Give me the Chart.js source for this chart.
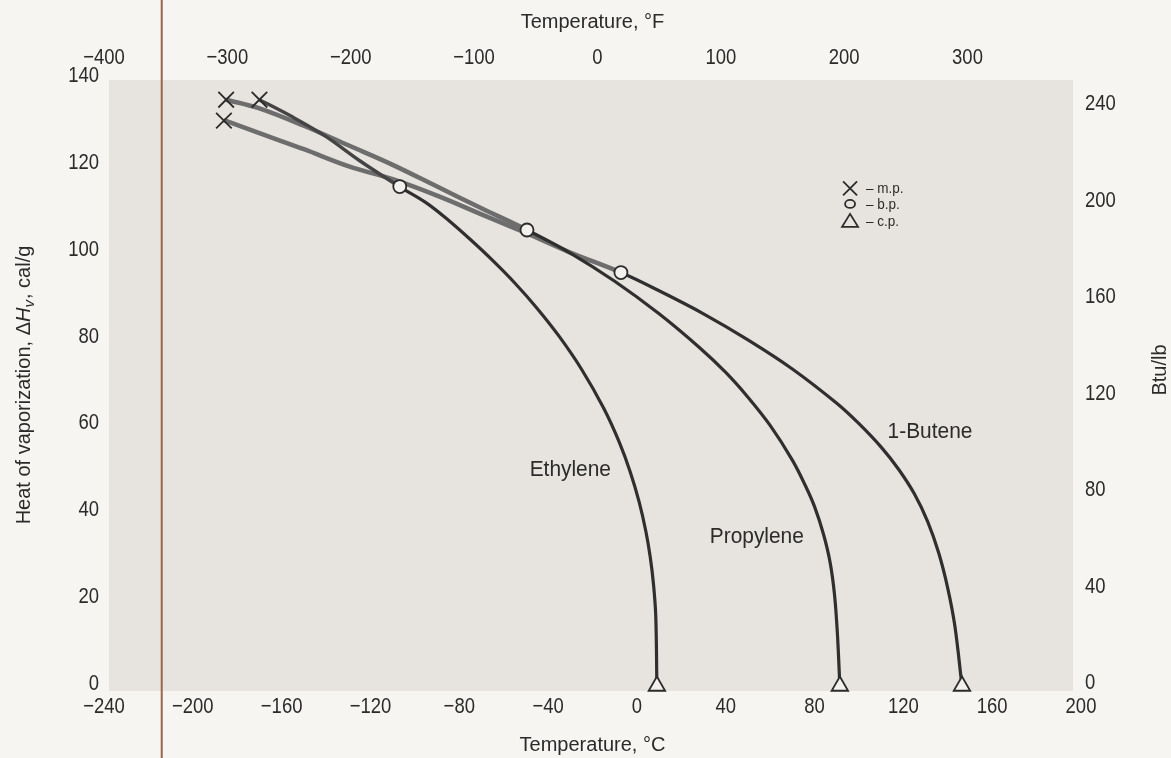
<!DOCTYPE html>
<html>
<head>
<meta charset="utf-8">
<script src="https://cdn.jsdelivr.net/npm/chart.js@4.4.1/dist/chart.umd.min.js"></script>
<style>
html, body { margin: 0; padding: 0; background: #f6f5f2; }
</style>
</head>
<body>
<canvas id="chart" width="1171" height="758"></canvas>
<script>
// temperatures in deg C, heat of vaporization in cal/g
var ethyleneT = [-170, -155, -140, -125, -107, -95, -85, -75, -65, -55, -45, -35, -25, -15, -8, -3, 1, 4, 6, 7.5, 8.5, 9]
var ethyleneH = [135, 131, 126.5, 121, 115, 111.3, 107.3, 102.8, 98, 92.8, 87, 80.5, 73, 64, 56.2, 49.3, 42.4, 35.7, 29.7, 23.3, 16, 0]

var propyleneT = [-185, -170, -150, -130, -110, -90, -70, -49.5, -30, -10, 10, 28, 40, 50, 60, 70, 76, 80, 84, 87, 89, 90.3, 91.4]
var propyleneH = [135, 133, 129, 124.5, 120, 115, 110, 105, 99.7, 93.2, 85.7, 78, 72.2, 66.5, 60, 52, 46, 41.3, 35, 28.5, 21, 12, 0]

var buteneT = [-186, -170, -150, -130, -110, -90, -70, -50, -30, -7.2, 10, 30, 50, 70, 90, 100, 110, 118, 125, 131, 136, 140, 143.2, 146.4]
var buteneH = [130.3, 127.3, 123.6, 119.7, 116.7, 112.9, 108.6, 104.3, 99.8, 95.2, 91, 85.7, 79.7, 73, 65.1, 60.4, 55, 49.8, 44.2, 37.8, 30.5, 22.5, 13.8, 0]

// melting, boiling and critical points (ethylene, propylene, 1-butene)
var mpT = [-170, -185, -186]
var mpH = [135, 135, 130.2]
var bpT = [-106.8, -49.5, -7.2]
var bpH = [115, 105, 95.2]
var cpT = [9, 91.4, 146.4]
var cpH = [0, 0, 0]

var ticksF = [-400, -300, -200, -100, 0, 100, 200, 300]
var ticksBtu = [0, 40, 80, 120, 160, 200, 240]

var ink = '#2b2b2b'
var face = "'Liberation Sans', Arimo, Arial, sans-serif"

const pts = (xs, ys) => xs.map((x, i) => ({ x: x, y: ys[i] }))
const minus = v => v < 0 ? '\u2212' + Math.abs(v) : '' + v

const curve = (label, xs, ys, k, upColor, upWidth) => ({
    type: 'line',
    label: label,
    data: pts(xs, ys),
    borderColor: '#2f2f2f',
    borderWidth: 3.2,
    pointRadius: 0,
    tension: 0.35,
    segment: {
        borderColor: c => c.p1.parsed.x <= bpT[k] + 0.01 ? upColor : undefined,
        borderWidth: c => c.p1.parsed.x <= bpT[k] + 0.01 ? upWidth : undefined
    },
    order: 2
})

const marks = (xs, ys, style, r) => ({
    type: 'scatter',
    data: pts(xs, ys),
    pointStyle: style,
    pointRadius: r,
    pointBorderWidth: 1.8,
    pointBorderColor: ink,
    pointBackgroundColor: '#f3f1ed',
    showLine: false,
    clip: false,
    order: 1
})

// narrow-looking text, as in the printed figure
const say = (ctx, text, x, y, align, squeeze) => {
    ctx.save()
    ctx.translate(x, y)
    ctx.scale(squeeze, 1)
    ctx.textAlign = align
    ctx.fillText(text, 0, 0)
    ctx.restore()
}

const paper = {
    id: 'paper',
    beforeDraw(chart) {
        const { ctx, chartArea: a } = chart
        ctx.save()
        ctx.fillStyle = '#f6f5f2'
        ctx.fillRect(0, 0, chart.width, chart.height)
        ctx.fillStyle = '#e7e4df'
        ctx.fillRect(a.left + 5, a.top + 2, a.right - a.left - 13, a.bottom - a.top + 3)
        ctx.restore()
    }
}

const notes = {
    id: 'notes',
    afterDraw(chart) {
        const { ctx, chartArea: a } = chart
        const x = chart.scales.x, xf = chart.scales.xf, y = chart.scales.y, yb = chart.scales.yb
        ctx.save()
        // page edge from the scan
        ctx.strokeStyle = '#9a6548'
        ctx.lineWidth = 2
        const ex = x.getPixelForValue(-214)
        ctx.beginPath()
        ctx.moveTo(ex, 0)
        ctx.lineTo(ex, chart.height)
        ctx.stroke()

        // tick labels
        ctx.fillStyle = ink
        ctx.textBaseline = 'middle'
        ctx.font = '22px ' + face
        x.ticks.forEach(t => say(ctx, minus(t.value), x.getPixelForValue(t.value), a.bottom + 21, 'center', 0.84))
        xf.ticks.forEach(t => say(ctx, minus(t.value), xf.getPixelForValue(t.value), a.top - 20, 'center', 0.84))
        y.ticks.forEach(t => say(ctx, minus(t.value), a.left - 5, y.getPixelForValue(t.value) - 2, 'right', 0.84))
        yb.ticks.forEach(t => say(ctx, minus(t.value), a.right + 4, yb.getPixelForValue(t.value) - 3, 'left', 0.84))

        // axis titles
        ctx.font = '20px ' + face
        say(ctx, 'Temperature, \u00b0F', (a.left + a.right) / 2, 22, 'center', 1)
        say(ctx, 'Temperature, \u00b0C', (a.left + a.right) / 2, 745, 'center', 1)
        ctx.save()
        ctx.translate(1160, (a.top + a.bottom) / 2 - 12)
        ctx.rotate(-Math.PI / 2)
        say(ctx, 'Btu/lb', 0, 0, 'center', 1)
        ctx.restore()

        // left title with italic H and subscript v
        ctx.save()
        ctx.translate(24, (a.top + a.bottom) / 2 + 3)
        ctx.rotate(-Math.PI / 2)
        ctx.textAlign = 'left'
        const p1 = 'Heat of vaporization, \u0394', p3 = ', cal/g'
        ctx.font = '20px ' + face
        const w1 = ctx.measureText(p1).width, w3 = ctx.measureText(p3).width
        ctx.font = 'italic 20px ' + face
        const w2 = ctx.measureText('H').width
        ctx.font = 'italic 15px ' + face
        const w4 = ctx.measureText('v').width + 1
        let cx = -(w1 + w2 + w4 + w3) / 2
        ctx.font = '20px ' + face
        ctx.fillText(p1, cx, 0); cx += w1
        ctx.font = 'italic 20px ' + face
        ctx.fillText('H', cx, 0); cx += w2
        ctx.font = 'italic 15px ' + face
        ctx.fillText('v', cx, 6); cx += w4
        ctx.font = '20px ' + face
        ctx.fillText(p3, cx, 0)
        ctx.restore()

        // curve names
        ctx.font = '22px ' + face
        say(ctx, 'Ethylene', x.getPixelForValue(-30), y.getPixelForValue(49.8), 'center', 0.95)
        say(ctx, 'Propylene', x.getPixelForValue(54), y.getPixelForValue(34.3), 'center', 0.95)
        say(ctx, '1-Butene', x.getPixelForValue(132), y.getPixelForValue(58.5), 'center', 0.95)

        // key
        const lx = x.getPixelForValue(96)
        const rows = [114.6, 111, 107.1].map(v => y.getPixelForValue(v))
        ctx.strokeStyle = ink
        ctx.lineWidth = 1.8
        ctx.beginPath()
        ctx.moveTo(lx - 7, rows[0] - 7); ctx.lineTo(lx + 7, rows[0] + 7)
        ctx.moveTo(lx + 7, rows[0] - 7); ctx.lineTo(lx - 7, rows[0] + 7)
        ctx.stroke()
        ctx.beginPath()
        ctx.ellipse(lx, rows[1], 5, 4, 0, 0, Math.PI * 2)
        ctx.stroke()
        ctx.beginPath()
        ctx.moveTo(lx, rows[2] - 7); ctx.lineTo(lx + 8, rows[2] + 6); ctx.lineTo(lx - 8, rows[2] + 6)
        ctx.closePath()
        ctx.stroke()
        ctx.font = '15px ' + face
        say(ctx, '\u2013 m.p.', lx + 16, rows[0] + 1, 'left', 0.9)
        say(ctx, '\u2013 b.p.', lx + 16, rows[1] + 1, 'left', 0.9)
        say(ctx, '\u2013 c.p.', lx + 16, rows[2] + 1, 'left', 0.9)
        ctx.restore()
    }
}

const axis = (extra) => Object.assign({
    type: 'linear',
    grid: { display: false, drawTicks: false },
    border: { display: false },
    title: { display: false }
}, extra)

new Chart(document.getElementById('chart'), {
    data: {
        datasets: [
            marks(mpT, mpH, 'crossRot', 11),
            marks(bpT, bpH, 'circle', 6.5),
            marks(cpT, cpH, 'triangle', 9.5),
            curve('Ethylene', ethyleneT, ethyleneH, 0, '#444444', 3.4),
            curve('Propylene', propyleneT, propyleneH, 1, '#6d6d6d', 4.5),
            curve('1-Butene', buteneT, buteneH, 2, '#6d6d6d', 4.5)
        ]
    },
    options: {
        responsive: false,
        animation: false,
        devicePixelRatio: 1,
        layout: { padding: 0 },
        plugins: { legend: { display: false }, tooltip: { enabled: false } },
        scales: {
            x: axis({
                position: 'bottom', min: -240, max: 200,
                ticks: { display: false, stepSize: 40 },
                afterFit: s => { s.height = 72 }
            }),
            xf: axis({
                position: 'top', min: -400, max: 392,
                ticks: { display: false },
                afterBuildTicks: s => { s.ticks = ticksF.map(v => ({ value: v })) },
                afterFit: s => { s.height = 78 }
            }),
            y: axis({
                position: 'left', min: 0, max: 140,
                ticks: { display: false, stepSize: 20 },
                afterFit: s => { s.width = 104 }
            }),
            yb: axis({
                position: 'right', min: 0, max: 252,
                ticks: { display: false },
                afterBuildTicks: s => { s.ticks = ticksBtu.map(v => ({ value: v })) },
                afterFit: s => { s.width = 90 }
            })
        }
    },
    plugins: [paper, notes]
})
</script>
</body>
</html>
